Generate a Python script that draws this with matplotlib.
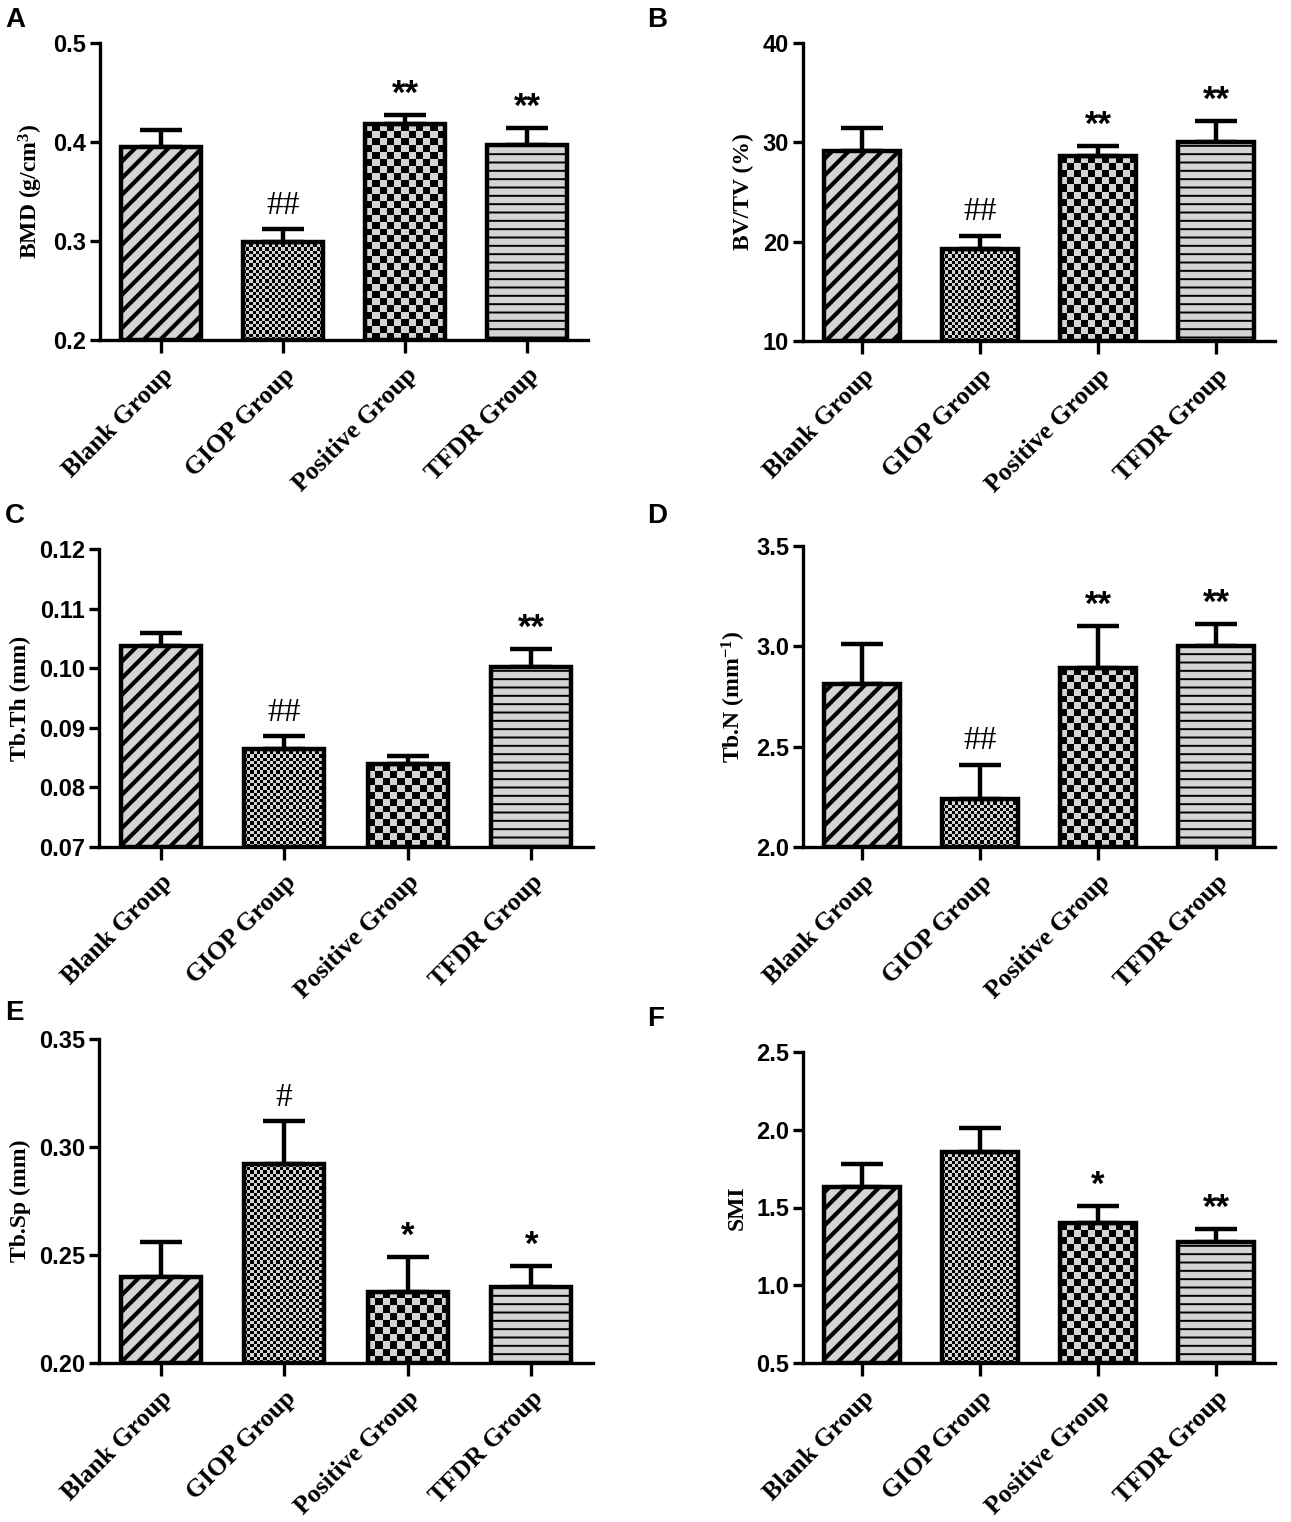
import numpy as np
import matplotlib
matplotlib.use("Agg")
import matplotlib.pyplot as plt
from matplotlib.colors import ListedColormap

plt.rcParams['mathtext.fontset'] = 'custom'
plt.rcParams['mathtext.rm'] = 'Liberation Serif:bold'
plt.rcParams['mathtext.bf'] = 'Liberation Serif:bold'
plt.rcParams['mathtext.it'] = 'Liberation Serif:bold'

groups = ["Blank Group", "GIOP Group", "Positive Group", "TFDR Group"]

bmd = [0.395, 0.299, 0.418, 0.397]
bmd_err = [0.017, 0.013, 0.009, 0.017]
bmd_sig = ["", "##", "**", "**"]

bvtv = [29.1, 19.3, 28.6, 30.0]
bvtv_err = [2.3, 1.3, 1.0, 2.1]
bvtv_sig = ["", "##", "**", "**"]

tbth = [0.1038, 0.0865, 0.0839, 0.1002]
tbth_err = [0.0021, 0.0021, 0.0014, 0.0030]
tbth_sig = ["", "##", "", "**"]

tbn = [2.81, 2.24, 2.89, 3.00]
tbn_err = [0.20, 0.17, 0.21, 0.11]
tbn_sig = ["", "##", "**", "**"]

tbsp = [0.240, 0.292, 0.233, 0.235]
tbsp_err = [0.016, 0.020, 0.016, 0.010]
tbsp_sig = ["", "#", "*", "*"]

smi = [1.63, 1.86, 1.40, 1.28]
smi_err = [0.15, 0.15, 0.11, 0.08]
smi_sig = ["", "", "*", "**"]

W, H = 1291, 1522
fig = plt.figure(figsize=(W / 100, H / 100), dpi=100)

light = "#d4d4d4"
fills = ["diag", "fine", "coarse", "lines"]


def px_box(l, r, top, bot):
    return [l / W, 1 - bot / H, (r - l) / W, (bot - top) / H]


panels = [
    # letter, box, values, errors, sigs, ylim, yticks, fmt, ylabel, letter pos
    ("A", px_box(100, 588, 43, 340), bmd, bmd_err, bmd_sig, (0.2, 0.5),
     [0.2, 0.3, 0.4, 0.5], "%.1f", r"BMD (g/cm$^3$)", (5, 20)),
    ("B", px_box(803, 1275, 43, 341), bvtv, bvtv_err, bvtv_sig, (10, 40),
     [10, 20, 30, 40], "%d", "BV/TV (%)", (647, 20)),
    ("C", px_box(99, 593, 549, 847), tbth, tbth_err, tbth_sig, (0.07, 0.12),
     [0.07, 0.08, 0.09, 0.10, 0.11, 0.12], "%.2f", "Tb.Th (mm)", (5, 516)),
    ("D", px_box(803, 1275, 546, 847), tbn, tbn_err, tbn_sig, (2.0, 3.5),
     [2.0, 2.5, 3.0, 3.5], "%.1f", r"Tb.N (mm$^{-1}$)", (647, 516)),
    ("E", px_box(99, 593, 1039, 1363), tbsp, tbsp_err, tbsp_sig, (0.20, 0.35),
     [0.20, 0.25, 0.30, 0.35], "%.2f", "Tb.Sp (mm)", (5, 1013)),
    ("F", px_box(803, 1275, 1052, 1363), smi, smi_err, smi_sig, (0.5, 2.5),
     [0.5, 1.0, 1.5, 2.0, 2.5], "%.1f", "SMI", (647, 1019)),
]


def checker_fill(ax, rect, cell, zorder):
    x0, y0 = rect.get_x(), rect.get_y()
    w, h = rect.get_width(), rect.get_height()
    p0 = ax.transData.transform((x0, y0))
    p1 = ax.transData.transform((x0 + w, y0 + h))
    nx = max(1, int(round(abs(p1[0] - p0[0]) / cell)))
    ny = max(1, int(round(abs(p1[1] - p0[1]) / cell)))
    ii, jj = np.indices((ny, nx))
    board = (ii + jj) % 2
    im = ax.imshow(board, extent=[x0, x0 + w, y0, y0 + h], origin="lower",
                   cmap=ListedColormap([light, "black"]), interpolation="nearest",
                   aspect="auto", zorder=zorder)
    im.set_clip_path(rect)


for letter, box, vals, errs, sigs, ylim, yticks, fmt, ylabel, lpos in panels:
    ax = fig.add_axes(box)
    x = np.arange(len(groups))
    ax.set_xlim(-0.5, 3.5)
    ax.set_ylim(*ylim)
    base = ylim[0]
    heights = [v - base for v in vals]

    bars = ax.bar(x, heights, bottom=base, width=0.65, color=light,
                  edgecolor="black", linewidth=3.2, zorder=3)
    for rect, kind in zip(bars, fills):
        if kind == "diag":
            rect.set_hatch("//")
            rect.set_hatch_linewidth(3.0)
        elif kind == "lines":
            rect.set_hatch("--")
            rect.set_hatch_linewidth(1.4)
        elif kind == "fine":
            rect.set_facecolor("none")
            checker_fill(ax, rect, 3.2, 2)
        else:
            rect.set_facecolor("none")
            checker_fill(ax, rect, 7.0, 2)

    ax.errorbar(x, vals, yerr=[np.zeros(len(vals)), errs], fmt="none",
                ecolor="black", elinewidth=3.2, capsize=15, capthick=3.2, zorder=2.5)

    for xi, v, e, s in zip(x, vals, errs, sigs):
        if not s:
            continue
        if "#" in s:
            ax.annotate(s, (xi, v + e), xytext=(0, 6), textcoords="offset points",
                        ha="center", va="bottom", fontsize=24,
                        family="Liberation Serif", color="black")
        else:
            ax.annotate(s, (xi, v + e), xytext=(0, 3), textcoords="offset points",
                        ha="center", va="bottom", fontsize=25,
                        family="Liberation Sans", fontweight="bold", color="black")

    for side in ["top", "right"]:
        ax.spines[side].set_visible(False)
    for side in ["left", "bottom"]:
        ax.spines[side].set_linewidth(2.4)

    ax.set_yticks(yticks)
    ax.set_yticklabels([fmt % t for t in yticks], family="Liberation Sans",
                       fontweight="bold", fontsize=17)
    ax.set_xticks(x)
    ax.set_xticklabels(groups, rotation=45, ha="right", rotation_mode="anchor",
                       family="Liberation Serif", fontweight="bold", fontsize=18.5)
    ax.tick_params(axis="y", width=2.4, length=7, pad=3)
    ax.tick_params(axis="x", width=2.4, length=9, pad=8)
    ax.set_ylabel(ylabel, family="Liberation Serif", fontweight="bold", fontsize=17,
                  labelpad=6)

    fig.text(lpos[0] / W, 1 - lpos[1] / H, letter, family="Liberation Sans",
             fontweight="bold", fontsize=20, va="center", ha="left")

fig.savefig("out.png", dpi=100)
